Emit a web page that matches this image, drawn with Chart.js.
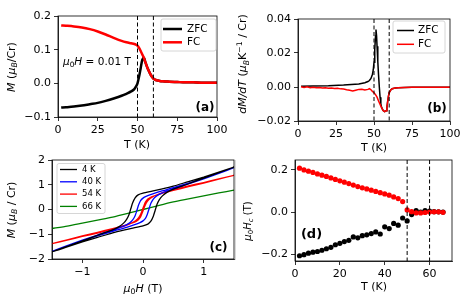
<!DOCTYPE html>
<html><head><meta charset="utf-8">
<script src="https://cdn.jsdelivr.net/npm/chart.js@4/dist/chart.umd.min.js"></script>
<style>
html,body{margin:0;padding:0;background:#fff;}
#wrap{position:relative;width:469px;height:298px;overflow:hidden;background:#fff;}
canvas{position:absolute;left:0;top:0;}
#sep{position:absolute;left:235px;top:160px;width:1px;height:100px;background:#d8d8d8;}
</style></head>
<body><div id="wrap">
<div id="sep"></div>
<canvas id="ca" width="469" height="298"></canvas>
<canvas id="cb" width="469" height="298"></canvas>
<canvas id="cc" width="469" height="298"></canvas>
<canvas id="cd" width="469" height="298"></canvas>
</div>
<script>
// ---------- DATA ----------
// (a) M vs T at 0.01 T
const Ta   = [2,5,10,15,20,25,30,35,40,43,46,48,49,50,51,52,53,54,55,56,57,58,59,60,61,62,64,66,70,75,80,85,90,95,100];
const FCa  = [0.172,0.171,0.169,0.166,0.161,0.154,0.145,0.135,0.126,0.122,0.119,0.117,0.115,0.112,0.105,0.096,0.086,0.076,0.062,0.049,0.038,0.028,0.020,0.014,0.011,0.009,0.007,0.006,0.005,0.004,0.003,0.003,0.002,0.002,0.002];
const ZFCa = [-0.072,-0.071,-0.069,-0.066,-0.062,-0.058,-0.052,-0.045,-0.037,-0.031,-0.024,-0.017,-0.010,0.000,0.020,0.045,0.070,0.076,0.062,0.049,0.038,0.028,0.020,0.014,0.011,0.009,0.007,0.006,0.005,0.004,0.003,0.003,0.002,0.002,0.002];
// (b) dM/dT
const TbZ  = [2,10,20,30,40,44,46,47,48,49,49.5,50,50.5,51,51.3,51.7,52,52.5,53,53.5,54,54.5,55,56,57,58,58.5,59,59.5,60,61,62,64,66,70,75,80,85,90,95,100];
const ZFCb = [0.0005,0.0006,0.0008,0.0012,0.0018,0.0025,0.0032,0.0038,0.005,0.0075,0.010,0.0145,0.022,0.030,0.0338,0.030,0.024,0.015,0.007,0.000,-0.006,-0.010,-0.012,-0.0138,-0.0145,-0.0140,-0.0120,-0.0085,-0.0055,-0.0033,-0.0018,-0.0010,-0.0006,-0.0004,-0.0003,-0.0002,-0.0002,-0.0001,-0.0001,-0.0001,-0.0001];
const TbF  = [2,4,6,8,10,12,14,16,18,20,22,24,26,28,30,32,34,36,38,40,42,44,46,47,48,49,50,51,52,53,54,55,56,57,58,58.5,59,59.5,60,61,62,64,66,70,75,80,85,90,95,100];
const FCb  = [0.0002,-0.0003,0.0001,-0.0004,-0.0002,-0.0005,-0.0003,-0.0006,-0.0004,-0.0007,-0.0006,-0.0009,-0.0008,-0.0011,-0.0012,-0.0016,-0.0019,-0.0024,-0.0019,-0.0014,-0.0013,-0.0017,-0.0014,-0.0010,-0.0016,-0.0026,-0.0034,-0.0045,-0.0060,-0.0082,-0.0102,-0.0122,-0.0138,-0.0145,-0.0140,-0.0120,-0.0085,-0.0055,-0.0033,-0.0018,-0.0010,-0.0006,-0.0004,-0.0003,-0.0002,-0.0002,-0.0001,-0.0001,-0.0001,-0.0001];
// (c) M vs H loops
const H4   = [1.5,1.25,1.0,0.75,0.5,0.3,0.15,0,-0.08,-0.13,-0.17,-0.2,-0.23,-0.27,-0.32,-0.4,-0.5,-0.75,-1.0,-1.25,-1.5,-1.25,-1.0,-0.75,-0.5,-0.3,-0.15,0,0.08,0.13,0.17,0.2,0.23,0.27,0.32,0.4,0.5,0.75,1.0,1.25,1.5];
const M4   = [1.71,1.51,1.31,1.13,0.94,0.82,0.74,0.66,0.59,0.47,0.27,0.04,-0.2,-0.4,-0.55,-0.7,-0.82,-1.04,-1.27,-1.49,-1.71,-1.51,-1.31,-1.13,-0.94,-0.82,-0.74,-0.66,-0.59,-0.47,-0.27,-0.04,0.2,0.4,0.55,0.7,0.82,1.04,1.27,1.49,1.71];
const H40  = [1.5,1.25,1.0,0.75,0.5,0.3,0.15,0.05,0,-0.04,-0.07,-0.1,-0.13,-0.17,-0.22,-0.3,-0.5,-0.75,-1.0,-1.25,-1.5,-1.25,-1.0,-0.75,-0.5,-0.3,-0.15,-0.05,0,0.04,0.07,0.1,0.13,0.17,0.22,0.3,0.5,0.75,1.0,1.25,1.5];
const M40  = [1.69,1.48,1.27,1.07,0.88,0.74,0.62,0.53,0.46,0.36,0.2,-0.03,-0.25,-0.42,-0.54,-0.65,-0.83,-1.03,-1.24,-1.46,-1.69,-1.48,-1.27,-1.07,-0.88,-0.74,-0.62,-0.53,-0.46,-0.36,-0.2,0.03,0.25,0.42,0.54,0.65,0.83,1.03,1.24,1.46,1.69];
const H54  = [1.5,1.25,1.0,0.75,0.5,0.3,0.15,0.08,0.04,0.01,-0.02,-0.05,-0.09,-0.15,-0.3,-0.5,-0.75,-1.0,-1.25,-1.5,-1.25,-1.0,-0.75,-0.5,-0.3,-0.15,-0.08,-0.04,-0.01,0.02,0.05,0.09,0.15,0.3,0.5,0.75,1.0,1.25,1.5];
const M54  = [1.38,1.23,1.07,0.92,0.77,0.64,0.52,0.42,0.3,0.12,-0.08,-0.25,-0.38,-0.5,-0.66,-0.8,-0.95,-1.09,-1.24,-1.38,-1.23,-1.07,-0.92,-0.77,-0.64,-0.52,-0.42,-0.3,-0.12,0.08,0.25,0.38,0.5,0.66,0.8,0.95,1.09,1.24,1.38];
const H66  = [-1.5,-1.25,-1.0,-0.75,-0.5,-0.25,0,0.25,0.5,0.75,1.0,1.25,1.5];
const M66  = [-0.77,-0.67,-0.55,-0.43,-0.31,-0.16,0,0.16,0.31,0.43,0.55,0.67,0.78];
// (d) coercive field
const Td     = [2,4,6,8,10,12,14,16,18,20,22,24,26,28,30,32,34,36,38,40,42,44,46,48,50,52,54,56,58,60,62,64,66];
const HcPos  = [0.208,0.200,0.194,0.188,0.181,0.175,0.169,0.162,0.155,0.148,0.142,0.135,0.128,0.121,0.115,0.110,0.104,0.098,0.092,0.086,0.080,0.072,0.064,0.050,0.010,0.002,-0.004,-0.004,-0.002,0.000,0.001,0.001,-0.001];
const HcNeg  = [-0.207,-0.202,-0.195,-0.190,-0.187,-0.181,-0.174,-0.167,-0.155,-0.148,-0.140,-0.134,-0.118,-0.122,-0.112,-0.108,-0.102,-0.094,-0.104,-0.070,-0.078,-0.054,-0.062,-0.028,-0.042,-0.012,0.007,0.000,0.007,0.005,0.002,0.001,0.000];
// ticks and markers
const ticksT100 = [0,25,50,75,100];
const ticksMa   = [-0.1,0,0.1,0.2];
const ticksMb   = [-0.02,0,0.02,0.04];
const ticksHc   = [-1,0,1];
const ticksMc   = [-2,-1,0,1,2];
const ticksTd   = [0,20,40,60];
const ticksHcd  = [-0.2,0,0.2];
const transitionT = [50,60];
const legendAB = ['ZFC','FC'];
const legendC  = ['4 K','40 K','54 K','66 K'];

// ---------- helpers ----------
const FONT = "'DejaVu Sans', sans-serif";
const pts = (xs, ys) => xs.map((x,i)=>({x:x, y:ys[i]}));
const minus = s => String(s).replace('-', '\u2212');

function axis(pos, min, max, ticks, fmt, size){
  return {
    type:'linear', position:pos, min:min, max:max,
    afterBuildTicks: s => { s.ticks = ticks.map(v=>({value:v})); },
    afterFit: s => { if(pos==='left') s.width = size; else s.height = size; },
    grid:{display:true, drawOnChartArea:false, drawTicks:true, tickLength:4, color:'#000', lineWidth:0.8},
    border:{display:true, color:'#000', width:0.8},
    ticks:{autoSkip:false, maxRotation:0, minRotation:0, padding:3, color:'#000',
           font:{family:FONT, size:11}, callback: v => minus(fmt(v))}
  };
}

function drawRich(ctx, segs, x, y, rot, size, align){
  ctx.save(); ctx.translate(x,y); ctx.rotate(rot||0);
  let w = 0;
  const parts = segs.map(s=>{
    const fs = (s.sub||s.sup) ? size*0.7 : size;
    const font = (s.it?'italic ':'') + (s.bold?'bold ':'') + fs + 'px ' + FONT;
    ctx.font = font; const mw = ctx.measureText(s.t).width; w += mw;
    return {s, font, mw};
  });
  let cx = align==='left' ? 0 : -w/2;
  ctx.textBaseline = 'middle'; ctx.textAlign = 'left'; ctx.fillStyle = '#000';
  parts.forEach(p=>{
    ctx.font = p.font;
    const dy = p.s.sub ? size*0.3 : (p.s.sup ? -size*0.35 : 0);
    ctx.fillText(p.s.t, cx, dy); cx += p.mw;
  });
  ctx.restore();
}

const deco = {
  id:'deco',
  afterDatasetsDraw(chart, args, o){
    const ctx = chart.ctx, a = chart.chartArea, xs = chart.scales.x;
    ctx.save();
    (o.vlines||[]).forEach(v=>{
      const px = xs.getPixelForValue(v);
      ctx.beginPath(); ctx.setLineDash([4,2.5]); ctx.lineWidth = 1; ctx.strokeStyle = '#000';
      ctx.moveTo(px, a.top); ctx.lineTo(px, a.bottom); ctx.stroke();
    });
    ctx.setLineDash([]);
    ctx.lineWidth = 0.8; ctx.strokeStyle = '#000';
    ctx.strokeRect(a.left, a.top, a.right-a.left, a.bottom-a.top);
    if(o.legend){
      const L = o.legend;
      ctx.fillStyle = 'rgba(255,255,255,0.85)'; ctx.strokeStyle = '#cccccc'; ctx.lineWidth = 0.8;
      ctx.beginPath(); ctx.roundRect(L.box[0], L.box[1], L.box[2], L.box[3], 2); ctx.fill(); ctx.stroke();
      L.items.forEach((it,i)=>{
        const y = L.y0 + i*L.dy;
        ctx.beginPath(); ctx.strokeStyle = it.color; ctx.lineWidth = L.lw;
        ctx.moveTo(L.x0, y); ctx.lineTo(L.x1, y); ctx.stroke();
        ctx.fillStyle = '#000'; ctx.font = L.fs + 'px ' + FONT; ctx.textBaseline = 'middle'; ctx.textAlign = 'left';
        ctx.fillText(it.label, L.tx, y);
      });
    }
    (o.texts||[]).forEach(t => drawRich(ctx, t.segs, t.x, t.y, t.rot, t.size, t.align));
    ctx.restore();
  }
};

function make(id, datasets, scales, padding, decoOpts){
  return new Chart(document.getElementById(id), {
    type:'scatter',
    data:{datasets:datasets},
    options:{
      responsive:false, animation:false, devicePixelRatio:1,
      layout:{padding:padding},
      scales:scales,
      events:[],
      plugins:{legend:{display:false}, tooltip:{enabled:false}, deco:decoOpts}
    },
    plugins:[deco]
  });
}
const lineDs = (data, color, lw, extra) => Object.assign({data, borderColor:color, backgroundColor:color, showLine:true, pointRadius:0, borderWidth:lw, fill:false}, extra||{});

// ---------- (a) ----------
make('ca', [
  lineDs(pts(Ta, FCa), '#ff0000', 2.5, {order:0, cubicInterpolationMode:'monotone'}),
  lineDs(pts(Ta, ZFCa), '#000000', 2.5, {order:1, cubicInterpolationMode:'monotone'})
], {
  x: axis('bottom', 0, 100, ticksT100, v=>String(v), 30),
  y: axis('left', -0.1, 0.2, ticksMa, v=>v.toFixed(1), 50)
}, {left:8, top:16, right:252, bottom:151}, {
  vlines: transitionT,
  legend:{box:[161,19,55,32], x0:163, x1:182, tx:187, y0:29, dy:13.3, lw:2.5, fs:10.5,
          items:[{label:legendAB[0], color:'#000'},{label:legendAB[1], color:'#ff0000'}]},
  texts:[
    {segs:[{t:'M',it:1},{t:' ('},{t:'μ',it:1},{t:'B',it:1,sub:1},{t:'/Cr)'}], x:12, y:67, rot:-Math.PI/2, size:11},
    {segs:[{t:'T (K)'}], x:137, y:145, size:11},
    {segs:[{t:'μ',it:1},{t:'0',sub:1},{t:'H',it:1},{t:' = 0.01 T'}], x:63, y:62, size:10.5, align:'left'},
    {segs:[{t:'(a)',bold:1}], x:205, y:107.5, size:12}
  ]
});

// ---------- (b) ----------
make('cb', [
  lineDs(pts(TbF, FCb), '#ff0000', 1.5, {order:0}),
  lineDs(pts(TbZ, ZFCb), '#000000', 1.5, {order:1})
], {
  x: axis('bottom', 0, 100, ticksT100, v=>String(v), 30),
  y: axis('left', -0.02, 0.04, ticksMb, v=>v.toFixed(2), 50)
}, {left:248, top:19, right:19, bottom:147}, {
  vlines: transitionT,
  legend:{box:[393,21,52,32], x0:397, x1:414, tx:418, y0:30.5, dy:13.8, lw:1.5, fs:10.5,
          items:[{label:legendAB[0], color:'#000'},{label:legendAB[1], color:'#ff0000'}]},
  texts:[
    {segs:[{t:'dM/dT',it:1},{t:' ('},{t:'μ',it:1},{t:'B',it:1,sub:1},{t:'K'},{t:'\u22121',sup:1},{t:' / Cr)'}], x:243.5, y:64, rot:-Math.PI/2, size:11},
    {segs:[{t:'T (K)'}], x:374, y:148, size:11},
    {segs:[{t:'(b)',bold:1}], x:437, y:109, size:12}
  ]
});

// ---------- (c) ----------
make('cc', [
  lineDs(pts(H4, M4), '#000000', 1.3, {tension:0.2}),
  lineDs(pts(H40, M40), '#0000ff', 1.3, {tension:0.2}),
  lineDs(pts(H54, M54), '#ff0000', 1.3, {tension:0.2}),
  lineDs(pts(H66, M66), '#008000', 1.3, {tension:0.2})
], {
  x: axis('bottom', -1.5, 1.5, ticksHc, v=>String(v), 30),
  y: axis('left', -2, 2, ticksMc, v=>String(v), 45)
}, {left:7, top:160, right:235, bottom:9}, {
  legend:{box:[57,163.5,48,50], x0:60, x1:77, tx:82, y0:169.5, dy:12.3, lw:1.3, fs:8.5,
          items:[{label:legendC[0], color:'#000'},{label:legendC[1], color:'#0000ff'},{label:legendC[2], color:'#ff0000'},{label:legendC[3], color:'#008000'}]},
  texts:[
    {segs:[{t:'M',it:1},{t:' ('},{t:'μ',it:1},{t:'B',it:1,sub:1},{t:' / Cr)'}], x:12, y:210, rot:-Math.PI/2, size:11},
    {segs:[{t:'μ',it:1},{t:'0',sub:1},{t:'H',it:1},{t:' (T)'}], x:143, y:289, size:11},
    {segs:[{t:'(c)',bold:1}], x:218.5, y:247.5, size:12}
  ]
});

// ---------- (d) ----------
make('cd', [
  {data:pts(Td, HcPos), backgroundColor:'#ff0000', borderColor:'#ff0000', pointRadius:2.6, borderWidth:0, order:0},
  {data:pts(Td, HcNeg), backgroundColor:'#000000', borderColor:'#000000', pointRadius:2.6, borderWidth:0, order:1}
], {
  x: axis('bottom', 0, 70, ticksTd, v=>String(v), 30),
  y: axis('left', -0.232, 0.247, ticksHcd, v=>v.toFixed(1), 50)
}, {left:245, top:160, right:17, bottom:7}, {
  vlines: transitionT,
  texts:[
    {segs:[{t:'μ',it:1},{t:'0',sub:1},{t:'H',it:1},{t:'c',it:1,sub:1},{t:' (T)'}], x:248, y:221, rot:-Math.PI/2, size:10},
    {segs:[{t:'T (K)'}], x:374, y:287, size:11},
    {segs:[{t:'(d)',bold:1}], x:311.5, y:234.5, size:13}
  ]
});
</script>
</body></html>
